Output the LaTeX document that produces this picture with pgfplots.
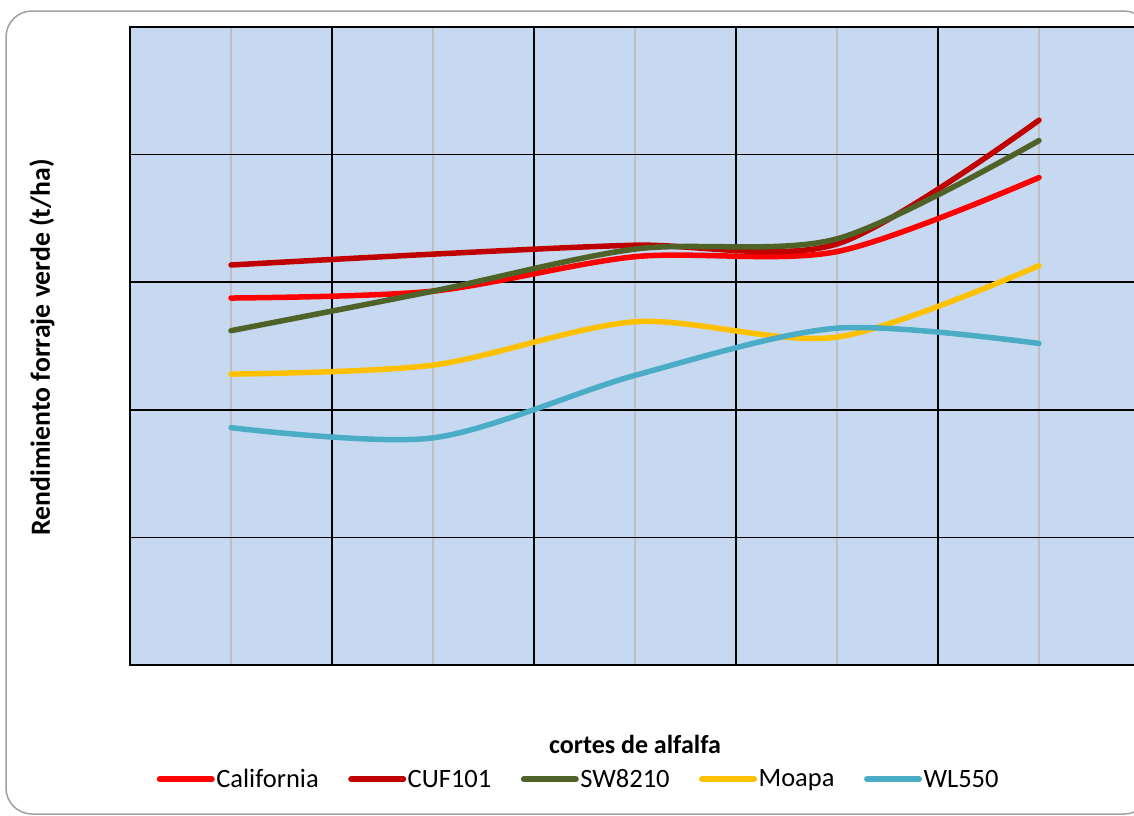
\documentclass[border=0pt]{standalone}
\usepackage{fontspec}
\setmainfont{Carlito}
\usepackage{pgfplots}
\pgfplotsset{compat=1.18}
\definecolor{bgblue}{HTML}{C6D9F1}
\definecolor{cCal}{HTML}{FF0000}
\definecolor{cCuf}{HTML}{C00000}
\definecolor{cSw}{HTML}{4F6228}
\definecolor{cMoa}{HTML}{FFC000}
\definecolor{cWl}{HTML}{4BACC6}
\definecolor{gridgray}{HTML}{BFBFBF}
\definecolor{bordergray}{HTML}{A0A0A0}
\begin{document}
\begin{tikzpicture}
\useasboundingbox (0pt,0pt) rectangle (1134pt,-815pt);
\fill[white] (0pt,0pt) rectangle (1134pt,-815pt);
\draw[bordergray, line width=1.5pt, rounded corners=26pt] (6pt,-11pt) rectangle (1150pt,-814pt);
\begin{axis}[
  at={(130pt,-665pt)}, anchor=south west,
  scale only axis, width=1010pt, height=638pt,
  xmin=-0.5, xmax=4.5, ymin=0, ymax=50,
  axis background/.style={fill=bgblue},
  xtick={0.5,1.5,2.5,3.5}, xticklabels={},
  minor xtick={0,1,2,3,4},
  ytick={10,20,30,40}, yticklabels={},
  major tick length=0pt, minor tick length=0pt,
  xmajorgrids, ymajorgrids, xminorgrids,
  major grid style={black, line width=1.5pt},
  minor grid style={gridgray, line width=1.2pt},
  axis line style={black, line width=1.6pt},
  xlabel={cortes de alfalfa},
  xlabel style={at={(rel axis cs:0.5,-0.124)}, anchor=center, font=\fontsize{26}{30}\selectfont\bfseries},
  ylabel={Rendimiento forraje verde (t/ha)},
  ylabel style={at={(rel axis cs:-0.0871,0.498)}, anchor=center, font=\fontsize{27.7}{30}\selectfont\bfseries},
  legend columns=5,
  legend style={at={(rel axis cs:0.444,-0.179)}, anchor=center, draw=none, fill=none,
    font=\fontsize{26.5}{30}\selectfont, inner sep=0pt,
    nodes={inner sep=1.5pt},
    /tikz/every even column/.append style={column sep=28pt}},
  legend image code/.code={\draw[#1, line width=6pt, line cap=round] (0pt,0pt) -- (52pt,0pt);},
  every axis plot/.append style={line width=5.5pt, line cap=round, smooth, mark=none},
]
\addplot[cCal] coordinates {(0,28.76) (1,29.3) (2,32.0) (3,32.4) (4,38.2)};
\addlegendentry{California}
\addplot[cCuf] coordinates {(0,31.35) (1,32.2) (2,32.9) (3,33.0) (4,42.7)};
\addlegendentry{CUF101}
\addplot[cSw] coordinates {(0,26.2) (1,29.3) (2,32.6) (3,33.4) (4,41.1)};
\addlegendentry{SW8210}
\addplot[cMoa] coordinates {(0,22.8) (1,23.5) (2,26.9) (3,25.7) (4,31.3)};
\addlegendentry{Moapa}
\addplot[cWl] coordinates {(0,18.6) (1,17.8) (2,22.7) (3,26.4) (4,25.2)};
\addlegendentry{WL550}
\end{axis}
\end{tikzpicture}
\end{document}
